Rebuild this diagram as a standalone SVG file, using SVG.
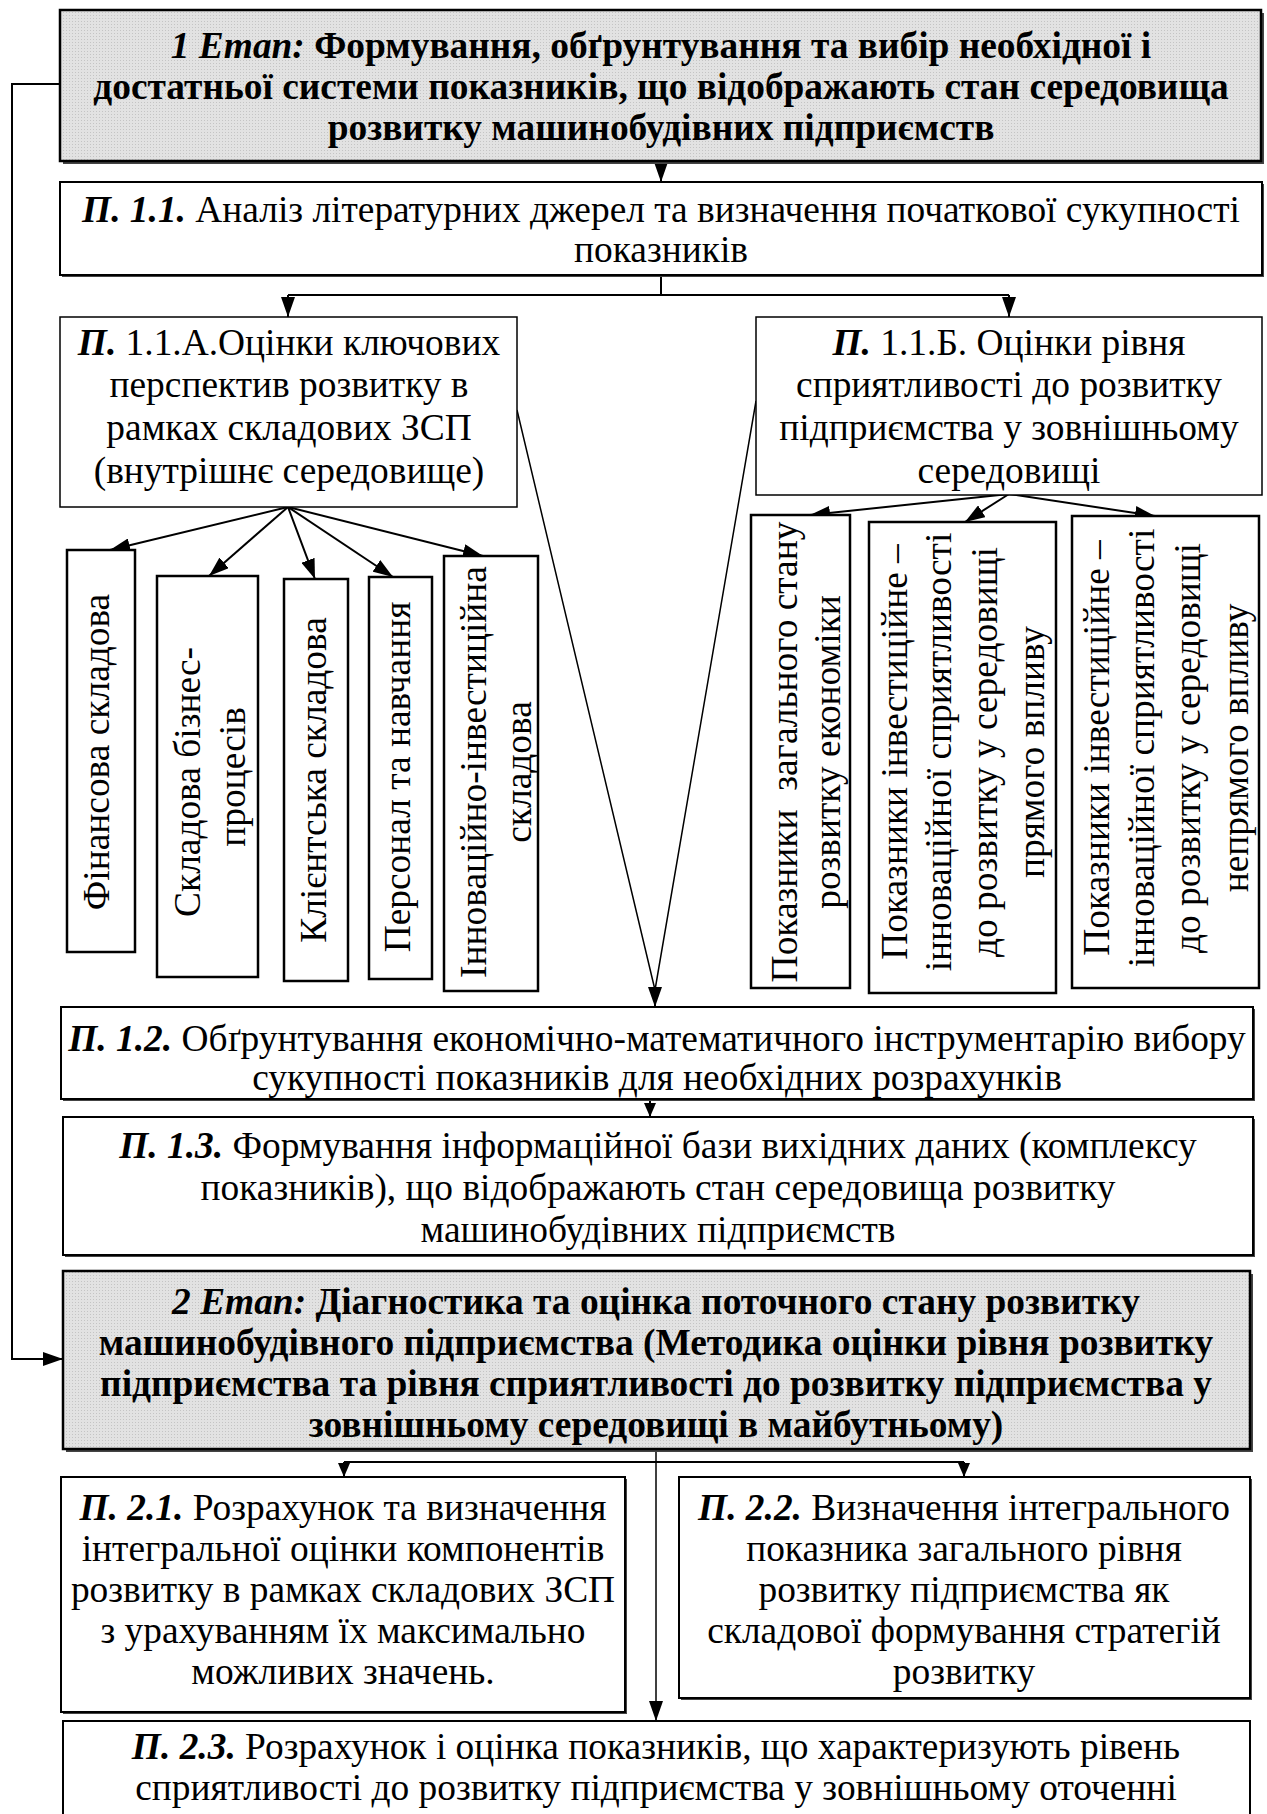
<svg xmlns="http://www.w3.org/2000/svg" width="1267" height="1814" viewBox="0 0 1267 1814">
<style>
text{font-family:"Liberation Serif","Times New Roman",serif;font-size:37.4px;fill:#000}
.c{text-anchor:middle}
.b{font-weight:bold}
.bi{font-weight:bold;font-style:italic}
.box{fill:#fff;stroke:#000;stroke-width:2}
.gbox{fill:url(#dots);stroke:#000;stroke-width:2.5}
.sh{fill:#444}
.thin{fill:#fff;stroke:#000;stroke-width:1.5}
.sub{fill:#fff;stroke:#000;stroke-width:2.5}
.ln{fill:none;stroke:#000;stroke-width:2}
.lt{fill:none;stroke:#000;stroke-width:1.5}
</style>
<defs>
<pattern id="dots" width="3" height="3" patternUnits="userSpaceOnUse"><rect width="3" height="3" fill="#e2e2e2"/><rect width="1" height="1" fill="#c4c4c4"/></pattern>
<marker id="ah" viewBox="0 0 20 14" refX="20" refY="7" markerWidth="20" markerHeight="14" markerUnits="userSpaceOnUse" orient="auto"><path d="M0 0 L20 7 L0 14 Z" fill="#000"/></marker>
<marker id="as" viewBox="0 0 14 12" refX="14" refY="6" markerWidth="14" markerHeight="12" markerUnits="userSpaceOnUse" orient="auto"><path d="M0 0 L14 6 L0 12 Z" fill="#000"/></marker>
</defs>

<g id="connectors">
<path class="ln" d="M60 84 H12 V1359 H63" marker-end="url(#ah)"/>
<path class="ln" d="M661 161 V182" marker-end="url(#ah)"/>
<path class="ln" d="M661 275 V295 M288 295 H1009"/>
<path class="ln" d="M288 295 V317" marker-end="url(#ah)"/>
<path class="ln" d="M1009 295 V317" marker-end="url(#ah)"/>
<path class="ln" d="M288 507 L110 550" marker-end="url(#ah)"/>
<path class="ln" d="M288 507 L209 576" marker-end="url(#ah)"/>
<path class="ln" d="M288 507 L315 579" marker-end="url(#ah)"/>
<path class="ln" d="M288 507 L393 577" marker-end="url(#ah)"/>
<path class="ln" d="M288 507 L483 556" marker-end="url(#ah)"/>
<path class="ln" d="M1009 494 L810 515" marker-end="url(#ah)"/>
<path class="ln" d="M1009 494 L965 522" marker-end="url(#ah)"/>
<path class="ln" d="M1009 494 L1155 516" marker-end="url(#ah)"/>
<path class="lt" d="M517 410 L655 990 M756 401 L655 990"/>
<path class="ln" d="M655 988 V1007" marker-end="url(#ah)"/>
<path class="ln" d="M650 1099 V1117" marker-end="url(#as)"/>
<path class="lt" d="M656 1449 V1721" marker-end="url(#ah)"/>
<path class="ln" d="M344 1462 H964"/>
<path class="ln" d="M344 1462 V1477" marker-end="url(#as)"/>
<path class="ln" d="M964 1462 V1477" marker-end="url(#as)"/>
</g>

<g id="stage1">
<rect class="sh" x="63" y="13" width="1201" height="151"/>
<rect class="gbox" x="60" y="10" width="1201" height="151"/>
<text class="c b" x="661" y="58"><tspan class="bi">1 Етап:</tspan> Формування, обґрунтування та вибір необхідної і</text>
<text class="c b" x="661" y="99">достатньої системи показників, що відображають стан середовища</text>
<text class="c b" x="661" y="140">розвитку машинобудівних підприємств</text>
</g>

<g id="p11">
<rect class="sh" x="62" y="184" width="1202" height="93"/>
<rect class="box" x="60" y="182" width="1202" height="93"/>
<text class="c" x="661" y="222"><tspan class="bi">П. 1.1.</tspan> Аналіз літературних джерел та визначення початкової сукупності</text>
<text class="c" x="661" y="262">показників</text>
</g>

<g id="p11a">
<rect class="thin" x="60" y="317" width="457" height="190"/>
<text class="c" x="289" y="355"><tspan class="bi">П.</tspan> 1.1.А.Оцінки ключових</text>
<text class="c" x="289" y="397">перспектив розвитку в</text>
<text class="c" x="289" y="440">рамках складових ЗСП</text>
<text class="c" x="289" y="483">(внутрішнє середовище)</text>
</g>

<g id="p11b">
<rect class="thin" x="756" y="317" width="506" height="178"/>
<text class="c" x="1009" y="355"><tspan class="bi">П.</tspan> 1.1.Б. Оцінки рівня</text>
<text class="c" x="1009" y="397">сприятливості до розвитку</text>
<text class="c" x="1009" y="440">підприємства у зовнішньому</text>
<text class="c" x="1009" y="483">середовищі</text>
</g>

<g id="a1">
<rect class="sub" x="67" y="550" width="68" height="402"/>
<text class="c" transform="translate(109 752) rotate(-90)">Фінансова складова</text>
</g>
<g id="a2">
<rect class="sub" x="157" y="576" width="101" height="401"/>
<text class="c" transform="translate(200 782) rotate(-90)">Складова бізнес-</text>
<text class="c" transform="translate(245 777) rotate(-90)">процесів</text>
</g>
<g id="a3">
<rect class="sub" x="284" y="579" width="64" height="402"/>
<text class="c" transform="translate(326 780) rotate(-90)">Клієнтська складова</text>
</g>
<g id="a4">
<rect class="sub" x="369" y="577" width="63" height="402"/>
<text class="c" transform="translate(410 777) rotate(-90)">Персонал та навчання</text>
</g>
<g id="a5">
<rect class="sub" x="444" y="556" width="94" height="435"/>
<text class="c" transform="translate(486 772) rotate(-90)">Інноваційно-інвестиційна</text>
<text class="c" transform="translate(531 772) rotate(-90)">складова</text>
</g>

<g id="b1">
<rect class="sub" x="751" y="515" width="99" height="473"/>
<text class="c" transform="translate(797 752) rotate(-90)" xml:space="preserve">Показники  загального стану</text>
<text class="c" transform="translate(840 752) rotate(-90)">розвитку економіки</text>
</g>
<g id="b2">
<rect class="sub" x="869" y="522" width="187" height="471"/>
<text class="c" transform="translate(907 752) rotate(-90)">Показники інвестиційне –</text>
<text class="c" transform="translate(951 752) rotate(-90)">інноваційної сприятливості</text>
<text class="c" transform="translate(997 752) rotate(-90)">до розвитку у середовищі</text>
<text class="c" transform="translate(1044 752) rotate(-90)">прямого впливу</text>
</g>
<g id="b3">
<rect class="sub" x="1072" y="516" width="187" height="472"/>
<text class="c" transform="translate(1109 748) rotate(-90)">Показники інвестиційне –</text>
<text class="c" transform="translate(1154 748) rotate(-90)">інноваційної сприятливості</text>
<text class="c" transform="translate(1200 748) rotate(-90)">до розвитку у середовищі</text>
<text class="c" transform="translate(1248 748) rotate(-90)">непрямого впливу</text>
</g>

<g id="p12">
<rect class="sh" x="63" y="1009" width="1192" height="92"/>
<rect class="box" x="61" y="1007" width="1192" height="92"/>
<text class="c" x="657" y="1051"><tspan class="bi">П. 1.2.</tspan> Обґрунтування економічно-математичного інструментарію вибору</text>
<text class="c" x="657" y="1090">сукупності показників для необхідних розрахунків</text>
</g>

<g id="p13">
<rect class="sh" x="65" y="1119" width="1190" height="138"/>
<rect class="box" x="63" y="1117" width="1190" height="138"/>
<text class="c" x="658" y="1158"><tspan class="bi">П. 1.3.</tspan> Формування інформаційної бази вихідних даних (комплексу</text>
<text class="c" x="658" y="1200">показників), що відображають стан середовища розвитку</text>
<text class="c" x="658" y="1242">машинобудівних підприємств</text>
</g>

<g id="stage2">
<rect class="sh" x="66" y="1274" width="1187" height="178"/>
<rect class="gbox" x="63" y="1271" width="1187" height="178"/>
<text class="c b" x="656" y="1314"><tspan class="bi">2 Етап:</tspan> Діагностика та оцінка поточного стану розвитку</text>
<text class="c b" x="656" y="1355">машинобудівного підприємства (Методика оцінки рівня розвитку</text>
<text class="c b" x="656" y="1396">підприємства та рівня сприятливості до розвитку підприємства у</text>
<text class="c b" x="656" y="1437">зовнішньому середовищі в майбутньому)</text>
</g>

<g id="p21">
<rect class="sh" x="63" y="1479" width="564" height="235"/>
<rect class="box" x="61" y="1477" width="564" height="235"/>
<text class="c" x="343" y="1520"><tspan class="bi">П. 2.1.</tspan> Розрахунок та визначення</text>
<text class="c" x="343" y="1561">інтегральної оцінки компонентів</text>
<text class="c" x="343" y="1602">розвитку в рамках складових ЗСП</text>
<text class="c" x="343" y="1643">з урахуванням їх максимально</text>
<text class="c" x="343" y="1684">можливих значень.</text>
</g>

<g id="p22">
<rect class="sh" x="681" y="1479" width="571" height="221"/>
<rect class="box" x="679" y="1477" width="571" height="221"/>
<text class="c" x="964" y="1520"><tspan class="bi">П. 2.2.</tspan> Визначення інтегрального</text>
<text class="c" x="964" y="1561">показника загального рівня</text>
<text class="c" x="964" y="1602">розвитку підприємства як</text>
<text class="c" x="964" y="1643">складової формування стратегій</text>
<text class="c" x="964" y="1684">розвитку</text>
</g>

<g id="p23">
<rect class="box" x="63" y="1721" width="1187" height="120"/>
<text class="c" x="656" y="1759"><tspan class="bi">П. 2.3.</tspan> Розрахунок і оцінка показників, що характеризують рівень</text>
<text class="c" x="656" y="1800">сприятливості до розвитку підприємства у зовнішньому оточенні</text>
</g>
</svg>
